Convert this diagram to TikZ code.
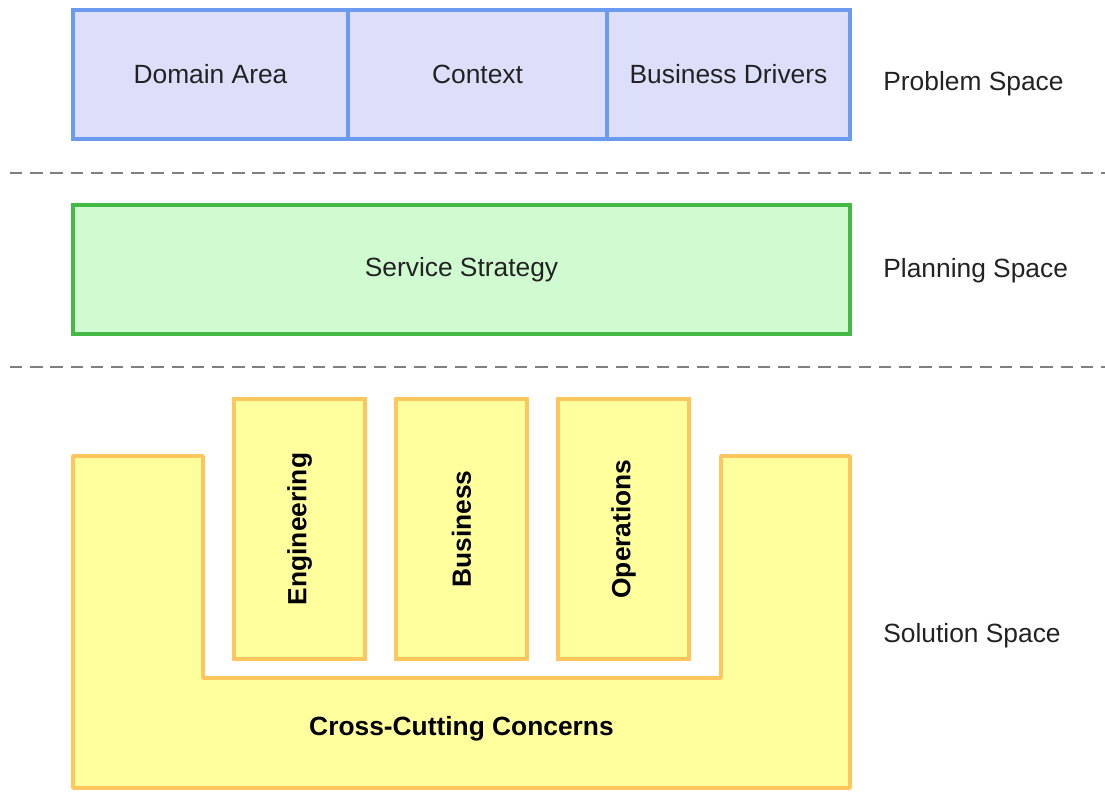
\documentclass[tikz,border=0pt]{standalone}
\usepackage{fontspec}
\setmainfont{Liberation Sans}
\usetikzlibrary{positioning}

\definecolor{probfill}{HTML}{DDDFFA}
\definecolor{probline}{HTML}{6A9BF0}
\definecolor{planfill}{HTML}{D0FBD0}
\definecolor{planline}{HTML}{44B944}
\definecolor{solfill}{HTML}{FFFF9E}
\definecolor{solline}{HTML}{FFC65E}
\definecolor{sepline}{HTML}{7F7F7F}
\definecolor{txt}{HTML}{222222}

\tikzset{
  probbox/.style={draw=probline, fill=probfill, line width=2.1pt, minimum height=129*0.02cm, inner sep=0pt, text=txt},
  planbox/.style={draw=planline, fill=planfill, line width=2.1pt, minimum height=129*0.02cm, minimum width=777*0.02cm, inner sep=0pt, text=txt},
  solbox/.style={draw=solline, fill=solfill, line width=2.1pt, minimum height=260*0.02cm, minimum width=131*0.02cm, inner sep=0pt, font=\fontsize{15}{18}\selectfont\bfseries, text=black},
  spacelabel/.style={anchor=west, text=txt, inner sep=0pt},
  sep/.style={draw=sepline, line width=1.3pt, dash pattern=on 7pt off 4.5pt}
}

\begin{document}
\begin{tikzpicture}[x=0.02cm, y=-0.02cm, font=\fontsize{15}{18}\selectfont]
\useasboundingbox[fill=white] (0,0) rectangle (1105,791);

% problem space
\node[probbox, minimum width=275*0.02cm] (domain) at (210.5,74.5) {Domain Area};
\node[probbox, minimum width=259*0.02cm] (context) at (477.5,74.5) {Context};
\node[probbox, minimum width=243*0.02cm] (drivers) at (728.5,74.5) {Business Drivers};

\coordinate (sepAl) at (10,173);
\coordinate (sepAr) at (1105,173);
\draw[sep] (sepAl) -- (sepAr);

% planning space
\node[planbox] (strategy) at (461.5,269.5) {Service Strategy};

\coordinate (sepBl) at (10,367);
\coordinate (sepBr) at (1105,367);
\draw[sep] (sepBl) -- (sepBr);

% solution space
\draw[solline, fill=solfill, line width=2.1pt, line join=round]
  (73,456) -- (203,456) -- (203,678) -- (721,678) -- (721,456) -- (850,456)
  -- (850,788) -- (73,788) -- cycle;
\node[font=\fontsize{15}{18}\selectfont\bfseries, text=black] (concerns) at (461.5,729) {Cross-Cutting Concerns};

\node[solbox] (eng) at (299.5,529) {\rotatebox{90}{Engineering}};
\node[solbox] (bus) at (461.5,529) {\rotatebox{90}{Business}};
\node[solbox] (ops) at (623.5,529) {\rotatebox{90}{Operations}};

% labels
\node[spacelabel] (problem) at (883,84) {Problem Space};
\node[spacelabel] (planning) at (883,271) {Planning Space};
\node[spacelabel] (solution) at (883,636) {Solution Space};
\end{tikzpicture}
\end{document}
